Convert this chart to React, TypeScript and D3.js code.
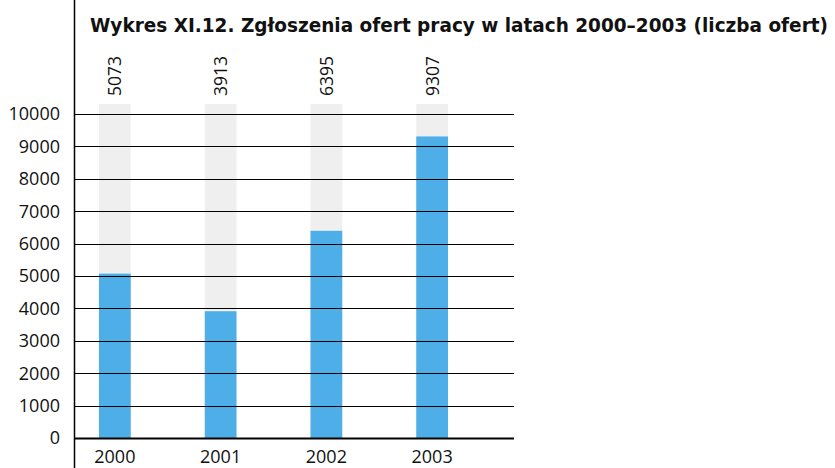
import { useEffect, useRef } from 'react';
import * as d3 from 'd3';

const years = ["2000", "2001", "2002", "2003"];
const offers = [5073, 3913, 6395, 9307];
const yTicks = [0, 1000, 2000, 3000, 4000, 5000, 6000, 7000, 8000, 9000, 10000];
const title = "Wykres XI.12. Zgłoszenia ofert pracy w latach 2000–2003 (liczba ofert)";

export default function App() {
  const svgRef = useRef<SVGSVGElement>(null);

  useEffect(() => {
    if (!svgRef.current) return;
    const svg = d3.select(svgRef.current);
    svg.selectAll("*").remove();

    const font = "'Open Sans', 'DejaVu Sans', sans-serif";
    const axisX = 74;
    const gridRight = 514;

    const y = d3.scaleLinear().domain([0, 10000]).range([438, 114]);
    const x = d3.scaleBand().domain(years).range([62, 485]).paddingInner(0.7).paddingOuter(0.35);

    // background bars (light gray, full height)
    svg.append("g")
      .selectAll("rect")
      .data(years)
      .join("rect")
      .attr("x", d => x(d)!)
      .attr("width", x.bandwidth())
      .attr("y", 104)
      .attr("height", y(0) - 104)
      .attr("fill", "#efefef");

    // value bars
    svg.append("g")
      .selectAll("rect")
      .data(offers)
      .join("rect")
      .attr("x", (_, i) => x(years[i])!)
      .attr("width", x.bandwidth())
      .attr("y", d => y(d))
      .attr("height", d => y(0) - y(d))
      .attr("fill", "#4eaee8");

    // gridlines over bars
    svg.append("g")
      .selectAll("line")
      .data(yTicks)
      .join("line")
      .attr("x1", axisX)
      .attr("x2", gridRight)
      .attr("y1", d => Math.round(y(d)) + 0.5)
      .attr("y2", d => Math.round(y(d)) + 0.5)
      .attr("stroke", "#000")
      .attr("stroke-width", d => (d === 0 ? 2 : 1));

    // vertical axis
    svg.append("line")
      .attr("x1", axisX + 0.5)
      .attr("x2", axisX + 0.5)
      .attr("y1", 0)
      .attr("y2", 468)
      .attr("stroke", "#000")
      .attr("stroke-width", 1.5);

    // y tick labels
    svg.append("g")
      .selectAll("text")
      .data(yTicks)
      .join("text")
      .attr("x", 60)
      .attr("y", d => y(d))
      .attr("dy", "0.36em")
      .attr("text-anchor", "end")
      .attr("font-family", font)
      .attr("font-size", 18)
      .attr("fill", "#111")
      .text(d => d);

    // x labels
    svg.append("g")
      .selectAll("text")
      .data(years)
      .join("text")
      .attr("x", d => x(d)! + x.bandwidth() / 2)
      .attr("y", 463)
      .attr("text-anchor", "middle")
      .attr("font-family", font)
      .attr("font-size", 18)
      .attr("fill", "#111")
      .text(d => d);

    // value labels, rotated
    svg.append("g")
      .selectAll("text")
      .data(offers)
      .join("text")
      .attr("transform", (_, i) => `translate(${x(years[i])! + x.bandwidth() / 2 + 6.5},96) rotate(-90)`)
      .attr("font-family", font)
      .attr("font-size", 17.5)
      .attr("fill", "#111")
      .text(d => d);

    // title
    svg.append("text")
      .attr("x", 90)
      .attr("y", 32)
      .attr("font-family", "'DejaVu Sans Condensed', 'DejaVu Sans', sans-serif")
      .attr("font-weight", "bold")
      .attr("font-size", 20)
      .attr("textLength", 738)
      .attr("lengthAdjust", "spacingAndGlyphs")
      .attr("fill", "#111")
      .text(title);
  }, []);

  return (
    <svg
      ref={svgRef}
      width={835}
      height={468}
      style={{ position: "absolute", left: 0, top: 0, background: "#fff" }}
    />
  );
}
